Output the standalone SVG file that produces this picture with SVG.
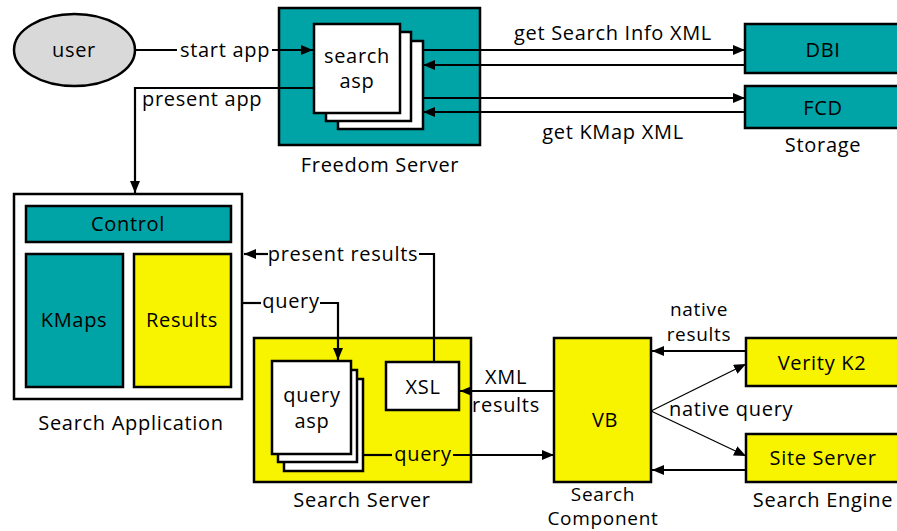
<svg xmlns="http://www.w3.org/2000/svg" width="897" height="531" viewBox="0 0 897 531">
<defs>
<marker id="ah" viewBox="0 0 12 10" refX="12" refY="5" markerWidth="12" markerHeight="10" markerUnits="userSpaceOnUse" orient="auto"><path d="M0,0 L12,5 L0,10 Z" fill="#000"/></marker>
<style>
text{font-family:"Open Sans","Liberation Sans",sans-serif;font-size:20px;letter-spacing:0.7px;fill:#000;text-anchor:middle}
.box{stroke:#000;stroke-width:2.5}
.teal{fill:#00a3a6}
.yel{fill:#f8f400}
.wht{fill:#fff}
.c{fill:none;stroke:#000;stroke-width:2.2}
.thin{fill:none;stroke:#000;stroke-width:1.3}
.l{text-anchor:start}
.s{font-size:19px}
</style>
</defs>
<rect width="897" height="531" fill="#fff"/>
<g id="user"><ellipse cx="74.5" cy="50" rx="60.5" ry="36" fill="#d9d9d9" class="box"/><text x="74" y="57">user</text></g>
<g id="freedom-server"><rect x="279" y="8" width="201" height="137" class="box teal"/>
<rect x="338" y="41" width="85" height="88" class="box wht"/>
<rect x="326" y="32" width="85" height="89" class="box wht"/>
<rect x="314" y="24" width="86" height="89" class="box wht"/>
<text x="357" y="63">search</text><text x="357" y="88">asp</text>
<text x="380" y="172">Freedom Server</text></g>
<g id="storage"><rect x="745" y="24" width="160" height="49" class="box teal"/><text x="823" y="57">DBI</text>
<rect x="745" y="86" width="160" height="42" class="box teal"/><text x="823" y="115">FCD</text>
<text x="823" y="152">Storage</text></g>
<g id="search-application"><rect x="14" y="194" width="228" height="205" class="box wht"/>
<rect x="26" y="206" width="205" height="36" class="box teal"/><text x="128" y="231">Control</text>
<rect x="26" y="254" width="97" height="133" class="box teal"/><text x="74" y="327">KMaps</text>
<rect x="134" y="254" width="97" height="133" class="box yel"/><text x="182" y="327">Results</text>
<text x="131" y="430">Search Application</text></g>
<g id="search-server"><rect x="254" y="338" width="217" height="144" class="box yel"/>
<rect x="284" y="379" width="79" height="92" class="box wht"/>
<rect x="278" y="370" width="79" height="92" class="box wht"/>
<rect x="272" y="361" width="79" height="93" class="box wht"/>
<text x="312" y="402">query<tspan x="312" y="428">asp</tspan></text>
<rect x="386" y="362" width="73" height="48" class="box wht"/><text x="423" y="394">XSL</text>
<text x="362" y="507">Search Server</text></g>
<g id="search-component"><rect x="554" y="338" width="97" height="144" class="box yel"/><text x="605" y="427">VB</text>
<text class="s" x="603" y="501">Search<tspan x="603" y="525">Component</tspan></text></g>
<g id="search-engine"><rect x="746" y="338" width="160" height="48" class="box yel"/><text x="822" y="370">Verity K2</text>
<rect x="746" y="434" width="160" height="48" class="box yel"/><text x="823" y="465">Site Server</text>
<text x="823" y="507">Search Engine</text></g>
<g id="connectors">
<path class="c" d="M135,50 H177"/><path class="c" d="M272,50 H313" marker-end="url(#ah)"/>
<text x="225" y="57">start app</text>
<path class="c" d="M314,88 H135 V193" marker-end="url(#ah)"/>
<text class="l" x="142" y="106">present app</text>
<path class="c" d="M423,50 H745" marker-end="url(#ah)"/>
<path class="c" d="M745,65 H423" marker-end="url(#ah)"/>
<path class="c" d="M423,98 H745" marker-end="url(#ah)"/>
<path class="c" d="M745,112 H423" marker-end="url(#ah)"/>
<text x="613" y="40">get Search Info XML</text>
<text x="613" y="139">get KMap XML</text>
<path class="c" d="M434,362 V254 H419"/><path class="c" d="M268,254 H244" marker-end="url(#ah)"/>
<text x="343" y="261">present results</text>
<path class="c" d="M242,303 H261"/><path class="c" d="M320,303 H338 V360" marker-end="url(#ah)"/>
<text x="291" y="308">query</text>
<path class="c" d="M554,391 H460" marker-end="url(#ah)"/>
<text x="506" y="384">XML<tspan x="506" y="412">results</tspan></text>
<path class="c" d="M363,455 H392"/><path class="c" d="M453,455 H554" marker-end="url(#ah)"/>
<text x="423" y="461">query</text>
<path class="c" d="M746,351 H652" marker-end="url(#ah)"/>
<text class="s" x="699" y="316">native<tspan x="699" y="341">results</tspan></text>
<path class="c" d="M746,470 H652" marker-end="url(#ah)"/>
<path class="thin" d="M651,411 L746,364" marker-end="url(#ah)"/>
<path class="thin" d="M651,411 L746,456" marker-end="url(#ah)"/>
<text class="l" x="669" y="416">native query</text>
</g>
</svg>
